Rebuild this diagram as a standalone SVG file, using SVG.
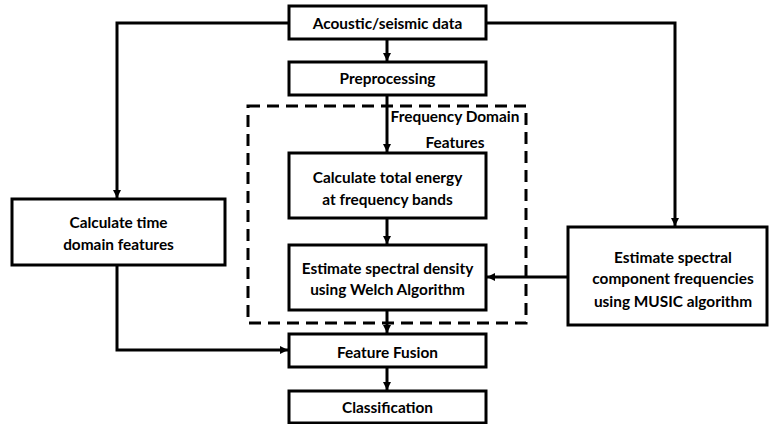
<svg xmlns="http://www.w3.org/2000/svg" width="769" height="424" viewBox="0 0 769 424">
<style>
.box{fill:#fff;stroke:#000;stroke-width:3}
.t{font-family:Lato,"Liberation Sans",sans-serif;font-weight:bold;font-size:15.4px;fill:#000;text-anchor:middle}
.c{fill:none;stroke:#000;stroke-width:3}
.d{fill:none;stroke:#000;stroke-width:3;stroke-dasharray:12 7}
</style>
<defs>
<marker id="ah" markerWidth="10" markerHeight="10" refX="8" refY="5" orient="auto" markerUnits="userSpaceOnUse">
<path d="M0,1 L8,5 L0,9 Z" fill="#000"/>
</marker>
</defs>
<g id="group-frequency">
<path class="d" d="M248,106 H526 V323 H248 Z"/>
<text class="t" x="455" y="122">Frequency Domain</text>
<text class="t" x="455" y="147.5">Features</text>
</g>
<g id="connectors">
<path class="c" d="M387,39 V61" marker-end="url(#ah)"/>
<path class="c" d="M387,95 V152" marker-end="url(#ah)"/>
<path class="c" d="M387,218 V244" marker-end="url(#ah)"/>
<path class="c" d="M387,310 V333" marker-end="url(#ah)"/>
<path class="c" d="M387,367 V390" marker-end="url(#ah)"/>
<path class="c" d="M289,23 H117 V198" marker-end="url(#ah)"/>
<path class="c" d="M486,23 H675 V226" marker-end="url(#ah)"/>
<path class="c" d="M568,277 H487" marker-end="url(#ah)"/>
<path class="c" d="M117,265 V350 H288" marker-end="url(#ah)"/>
</g>
<g id="n-acoustic">
<rect class="box" x="289" y="6" width="197" height="33"/>
<text class="t" x="387.5" y="28.5">Acoustic/seismic data</text>
</g>
<g id="n-preprocessing">
<rect class="box" x="289" y="62" width="197" height="33"/>
<text class="t" x="387.5" y="84">Preprocessing</text>
</g>
<g id="n-energy">
<rect class="box" x="289" y="153" width="197" height="65"/>
<text class="t" x="387.5" y="182.5">Calculate total energy</text>
<text class="t" x="387.5" y="204.5">at frequency bands</text>
</g>
<g id="n-welch">
<rect class="box" x="289" y="245" width="197" height="65"/>
<text class="t" x="387.5" y="273.5">Estimate spectral density</text>
<text class="t" x="387.5" y="295">using Welch Algorithm</text>
</g>
<g id="n-time">
<rect class="box" x="12" y="199" width="213" height="66"/>
<text class="t" x="118.5" y="227.5">Calculate time</text>
<text class="t" x="118.5" y="249.5">domain features</text>
</g>
<g id="n-music">
<rect class="box" x="568" y="227" width="199" height="98"/>
<text class="t" x="673" y="262.5">Estimate spectral</text>
<text class="t" x="673" y="284">component frequencies</text>
<text class="t" x="673" y="306.5">using MUSIC algorithm</text>
</g>
<g id="n-fusion">
<rect class="box" x="289" y="334" width="197" height="33"/>
<text class="t" x="387.5" y="357.5">Feature Fusion</text>
</g>
<g id="n-classification">
<rect class="box" x="289" y="391" width="197" height="32"/>
<text class="t" x="387.5" y="413">Classification</text>
</g>
</svg>
